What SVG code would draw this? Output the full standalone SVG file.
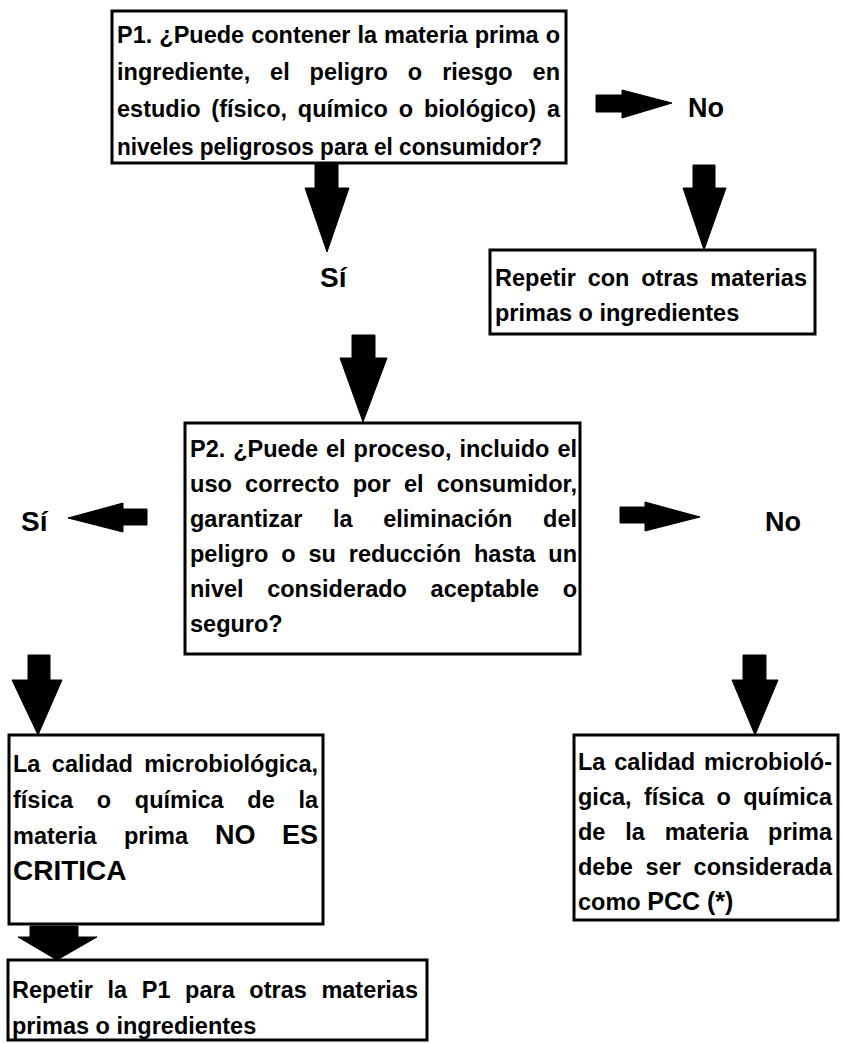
<svg xmlns="http://www.w3.org/2000/svg" width="843" height="1043" viewBox="0 0 843 1043">
<style>
.box{fill:#fff;stroke:#000;stroke-width:3}
.t{font-family:"Liberation Sans",Arial,sans-serif;font-weight:bold;font-size:23.5px;fill:#000}
.big{font-family:"Liberation Sans",Arial,sans-serif;font-weight:bold;font-size:28px;fill:#000}
.arr{fill:#000;stroke:#000;stroke-width:1;stroke-linejoin:round}
</style>
<rect width="843" height="1043" fill="#fff"/>
<g id="connectors">
<path class="arr" d="M315,163 H338 V188 H349 L327,252 L305,188 H315 Z"/>
<path class="arr" d="M596,95 H622 V90 L672,103 L622,118 V112 H596 Z"/>
<path class="arr" d="M693,165 H715 V188 H726 L704,250 L683,188 H693 Z"/>
<path class="arr" d="M352,335 H375 V358 H387 L363,422 L340,358 H352 Z"/>
<path class="arr" d="M147,509 V525 H123 V532 L68,518 L123,503 V509 Z"/>
<path class="arr" d="M620,507 H645 V502 L700,517 L645,531 V523 H620 Z"/>
<path class="arr" d="M28,655 H50 V680 H62 L38,735 L12,680 H28 Z"/>
<path class="arr" d="M743,655 H766 V680 H778 L755,735 L732,680 H743 Z"/>
<path class="arr" d="M30,926 H78 V937 H97 L57,960 L18,937 H30 Z"/>
</g>
<g id="p1">
<rect class="box" x="112" y="11" width="454" height="152"/>
<text class="t" x="117" y="43" word-spacing="0.5" textLength="443" lengthAdjust="spacingAndGlyphs">P1. ¿Puede contener la materia prima o</text>
<text class="t" x="117" y="80" word-spacing="13.4" textLength="443" lengthAdjust="spacingAndGlyphs">ingrediente, el peligro o riesgo en</text>
<text class="t" x="117" y="117" word-spacing="4.3" textLength="443" lengthAdjust="spacingAndGlyphs">estudio (físico, químico o biológico) a</text>
<text class="t" x="117" y="155" textLength="425" lengthAdjust="spacingAndGlyphs">niveles peligrosos para el consumidor?</text>
</g>
<g id="no1">
<text class="big" x="688" y="117" style="font-size:27px">No</text>
</g>
<g id="si1">
<text class="big" x="320" y="287">Sí</text>
</g>
<g id="repetir1">
<rect class="box" x="490" y="250" width="325" height="84"/>
<text class="t" x="495" y="286" word-spacing="5.2" textLength="312" lengthAdjust="spacingAndGlyphs">Repetir con otras materias</text>
<text class="t" x="495" y="321">primas o ingredientes</text>
</g>
<g id="p2">
<rect class="box" x="185" y="423" width="395" height="231"/>
<text class="t" x="190" y="457" word-spacing="1.4" textLength="387" lengthAdjust="spacingAndGlyphs">P2. ¿Puede el proceso, incluido el</text>
<text class="t" x="190" y="492" word-spacing="6.6" textLength="387" lengthAdjust="spacingAndGlyphs">uso correcto por el consumidor,</text>
<text class="t" x="190" y="527" word-spacing="24.1" textLength="387" lengthAdjust="spacingAndGlyphs">garantizar la eliminación del</text>
<text class="t" x="190" y="562" word-spacing="6.4" textLength="387" lengthAdjust="spacingAndGlyphs">peligro o su reducción hasta un</text>
<text class="t" x="190" y="597" word-spacing="17.1" textLength="387" lengthAdjust="spacingAndGlyphs">nivel considerado aceptable o</text>
<text class="t" x="190" y="632">seguro?</text>
</g>
<g id="si2">
<text class="big" x="21" y="531">Sí</text>
</g>
<g id="no2">
<text class="big" x="765" y="531" style="font-size:27px">No</text>
</g>
<g id="nocritica">
<rect class="box" x="9" y="735" width="314" height="189"/>
<text class="t" x="13" y="772" word-spacing="4.9" textLength="305" lengthAdjust="spacingAndGlyphs">La calidad microbiológica,</text>
<text class="t" x="13" y="808" word-spacing="17.2" textLength="305" lengthAdjust="spacingAndGlyphs">física o química de la</text>
<text class="t" x="13" y="844">materia</text>
<text class="t" x="124" y="844">prima</text>
<text class="big" x="215" y="844" style="font-size:27px">NO</text>
<text class="big" x="318" y="844" text-anchor="end" style="font-size:27px">ES</text>
<text class="big" x="13" y="880">CRITICA</text>
</g>
<g id="pcc">
<rect class="box" x="574" y="735" width="264" height="185"/>
<text class="t" x="578" y="770" word-spacing="2.3" textLength="254" lengthAdjust="spacingAndGlyphs">La calidad microbioló-</text>
<text class="t" x="578" y="805" word-spacing="5.9" textLength="254" lengthAdjust="spacingAndGlyphs">gica, física o química</text>
<text class="t" x="578" y="840" word-spacing="13.3" textLength="254" lengthAdjust="spacingAndGlyphs">de la materia prima</text>
<text class="t" x="578" y="875" word-spacing="6.2" textLength="254" lengthAdjust="spacingAndGlyphs">debe ser considerada</text>
<text class="t" x="578" y="910">como <tspan class="big" style="font-size:25px">PCC (*)</tspan></text>
</g>
<g id="repetir2">
<rect class="box" x="8" y="960" width="419" height="80"/>
<text class="t" x="12" y="998" word-spacing="8.1" textLength="406" lengthAdjust="spacingAndGlyphs">Repetir la P1 para otras materias</text>
<text class="t" x="12" y="1034">primas o ingredientes</text>
</g>
</svg>
